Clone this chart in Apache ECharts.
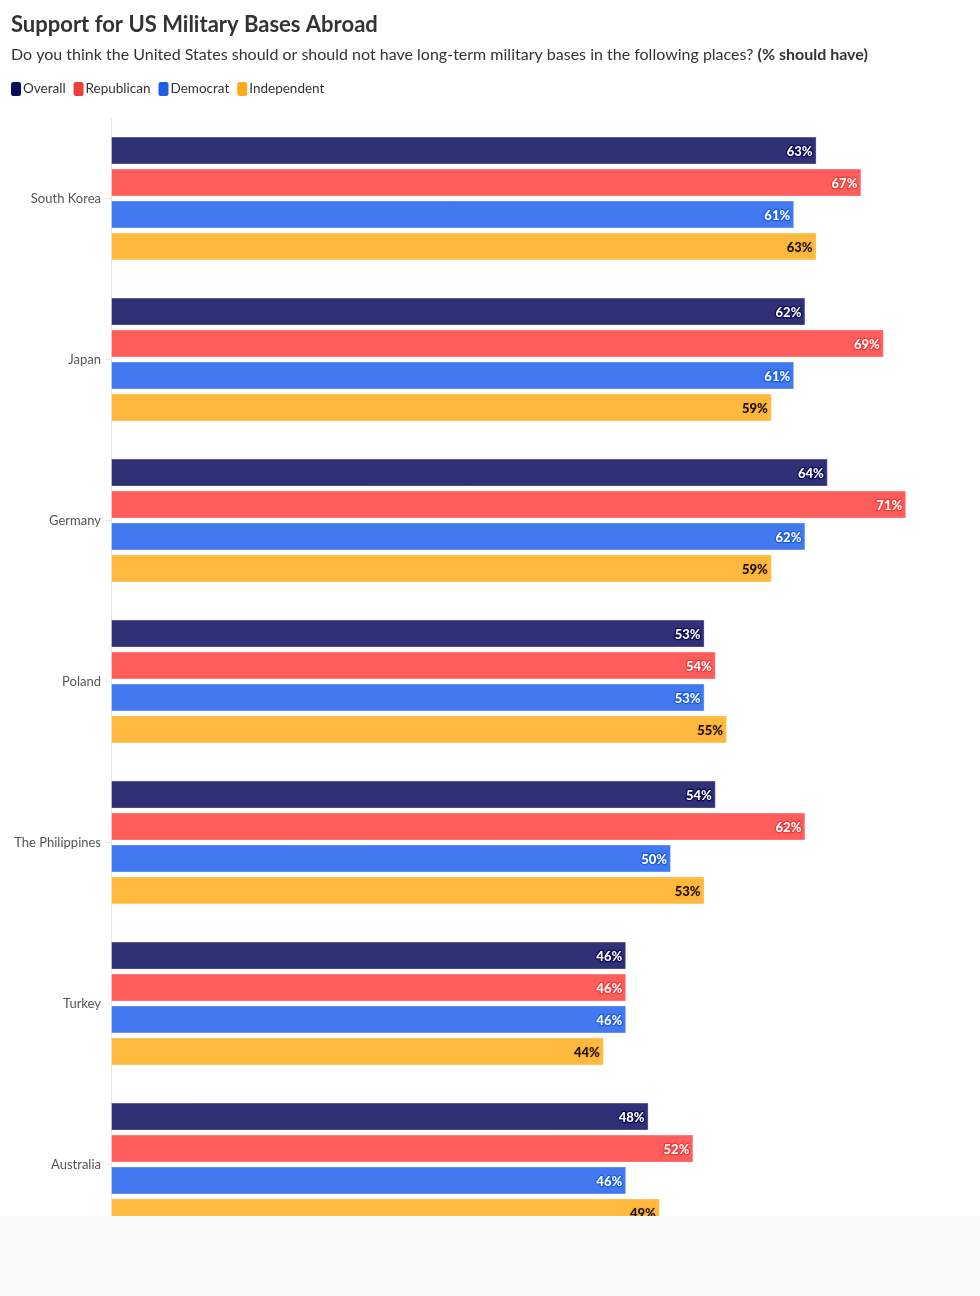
<!DOCTYPE html>
<html>
<head>
<meta charset="utf-8">
<script src="https://cdn.jsdelivr.net/npm/echarts@6/dist/echarts.min.js"></script>
<style>
  html, body { margin: 0; padding: 0; background: #f9f9f9; }
  #wrap { width: 980px; height: 1216px; overflow: hidden; background: #ffffff; position: relative; }
  #chart { width: 980px; height: 1262px; }
</style>
</head>
<body>
<div id="wrap"><div id="chart"></div></div>
<script>
const categories = ['South Korea', 'Japan', 'Germany', 'Poland', 'The Philippines', 'Turkey', 'Australia'];
const overall     = [63, 62, 64, 53, 54, 46, 48];
const republican  = [67, 69, 71, 54, 62, 46, 52];
const democrat    = [61, 61, 62, 53, 50, 46, 46];
const independent = [63, 59, 59, 55, 53, 44, 49];
const seriesNames = ['Overall', 'Republican', 'Democrat', 'Independent'];

const FONT = 'Lato, "Noto Sans", sans-serif';
const barColors    = ['#2f3076', '#ff5d5b', '#4278f0', '#ffb93e'];
const legendColors = ['#0b0b57', '#f03b3b', '#1e5de6', '#ffa81c'];
const labelColors  = ['#ffffff', '#ffffff', '#ffffff', '#111111'];
const labelBorders = ['#0b0b57', '#f03b3b', '#1e5de6', '#ffb02a'];
const values = [overall, republican, democrat, independent];

const chart = echarts.init(document.getElementById('chart'), null, { renderer: 'canvas' });

const series = seriesNames.map((name, i) => ({
  name: name,
  type: 'bar',
  data: values[i],
  barWidth: 28,
  barGap: '14%',
  itemStyle: { color: barColors[i], borderColor: 'rgba(255,255,255,0.35)', borderWidth: 1 },
  emphasis: { disabled: true },
  label: {
    show: true,
    position: 'insideRight',
    distance: 4,
    offset: [0, 1],
    formatter: '{c}%',
    fontFamily: FONT,
    fontWeight: 900,
    fontSize: 13,
    color: labelColors[i],
    textBorderColor: labelBorders[i],
    textBorderWidth: 2.5
  }
}));

chart.setOption({
  animation: false,
  backgroundColor: '#ffffff',
  title: {
    left: 11,
    top: 14,
    padding: 0,
    text: 'Support for US Military Bases Abroad',
    textStyle: { fontFamily: FONT, fontSize: 22, fontWeight: 'bold', color: '#333333' },
    subtext: '{n|Do you think the United States should or should not have long-term military bases in the following places? }{b|(% should have)}',
    itemGap: 11,
    subtextStyle: {
      rich: {
        n: { fontFamily: FONT, fontSize: 16, color: '#333333' },
        b: { fontFamily: FONT, fontSize: 16, color: '#333333', fontWeight: 'bold' }
      }
    }
  },
  legend: {
    left: 6,
    top: 77,
    icon: 'roundRect',
    itemWidth: 10,
    itemHeight: 14,
    itemGap: 8,
    selectedMode: false,
    textStyle: { fontFamily: FONT, fontSize: 13.5, color: '#333333', padding: [0, 0, 0, -3] },
    data: seriesNames.map((n, i) => ({ name: n, itemStyle: { color: legendColors[i], borderWidth: 0 } }))
  },
  grid: { left: 111, right: 29, top: 118, bottom: 17, containLabel: false },
  xAxis: {
    type: 'value',
    min: 0,
    max: 75,
    show: false,
    splitLine: { show: false }
  },
  yAxis: {
    type: 'category',
    data: categories,
    inverse: true,
    axisLine: { show: true, lineStyle: { color: '#e6e6e6', width: 1 } },
    axisTick: { show: true, length: 5, alignWithLabel: true, lineStyle: { color: '#e6e6e6' },
      interval: 0 },
    axisLabel: { fontFamily: FONT, fontSize: 13, color: '#555555', margin: 10, padding: [2, 0, 0, 0] }
  },
  series: series
});
</script>
</body>
</html>
